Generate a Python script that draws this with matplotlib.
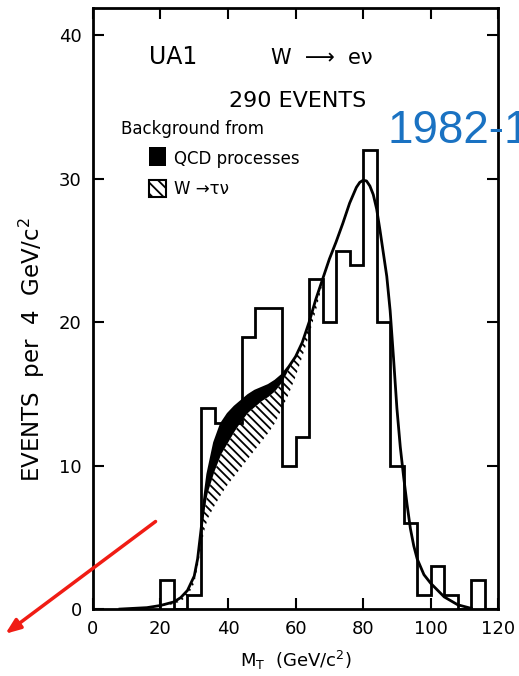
import matplotlib
matplotlib.use("Agg")
import matplotlib.pyplot as plt
from matplotlib.patches import Rectangle

# histogram of transverse mass, 4 GeV bins starting at 20 GeV
bin_edges = [20, 24, 28, 32, 36, 40, 44, 48, 52, 56, 60, 64, 68, 72, 76,
             80, 84, 88, 92, 96, 100, 104, 108, 112, 116]
counts = [2, 0, 1, 14, 13, 13, 19, 21, 21, 10, 12, 23, 20, 25, 24,
          32, 20, 10, 6, 1, 3, 1, 0, 2]

# fitted curves:
# total fit, W->enu + W->taunu (bottom of black band), W->enu alone
mt = [8, 12, 16, 20, 24, 26, 28, 30, 31, 32, 33, 34, 36, 38, 40, 42, 44, 46,
      48, 50, 52, 54, 56, 58, 60, 62, 64, 66, 68, 70, 72, 74, 76, 78, 79, 80,
      81, 82, 83, 84, 85, 86, 87, 88, 89, 90, 91, 92, 93, 94, 95, 96, 98, 100,
      104, 108, 112]
fit_total = [0.0, 0.05, 0.1, 0.25, 0.5, 0.8, 1.3, 2.3, 3.5, 5.5, 7.6, 9.4,
             11.6, 12.9, 13.6, 14.1, 14.5, 14.9, 15.2, 15.4, 15.6, 15.9, 16.3,
             16.9, 17.6, 18.6, 20.0, 21.6, 23.0, 24.4, 25.6, 26.9, 28.3, 29.4,
             29.75, 29.9, 29.85, 29.5, 28.9, 27.9, 26.4, 24.8, 23.2, 20.8,
             17.5, 14.0, 11.3, 9.2, 7.3, 5.6, 4.4, 3.5, 2.4, 1.8, 0.85, 0.3,
             0.05]
fit_mid = [0.0, 0.05, 0.1, 0.25, 0.5, 0.8, 1.3, 2.3, 3.4, 5.2, 6.9, 8.1,
           9.6, 10.8, 11.6, 12.4, 13.1, 13.7, 14.1, 14.5, 14.8, 15.2, 15.8,
           16.7, 17.6, 18.6, 20.0, 21.6, 23.0, 24.4, 25.6, 26.9, 28.3, 29.4,
           29.75, 29.9, 29.85, 29.5, 28.9, 27.9, 26.4, 24.8, 23.2, 20.8,
           17.5, 14.0, 11.3, 9.2, 7.3, 5.6, 4.4, 3.5, 2.4, 1.8, 0.85, 0.3,
           0.05]
fit_enu = [0.0, 0.05, 0.1, 0.2, 0.35, 0.55, 0.9, 1.8, 2.9, 4.3, 5.5, 6.3,
           7.2, 8.0, 8.7, 9.3, 9.9, 10.5, 11.1, 11.7, 12.3, 13.0, 14.0, 15.0,
           16.2, 17.6, 19.1, 20.8, 22.7, 24.4, 25.6, 26.9, 28.3, 29.4,
           29.75, 29.9, 29.85, 29.5, 28.9, 27.9, 26.4, 24.8, 23.2, 20.8,
           17.5, 14.0, 11.3, 9.2, 7.3, 5.6, 4.4, 3.5, 2.4, 1.8, 0.85, 0.3,
           0.05]

x_ticks = [0, 20, 40, 60, 80, 100, 120]
y_ticks = [0, 10, 20, 30, 40]

plt.rcParams["font.family"] = ["DejaVu Sans"]
plt.rcParams["hatch.linewidth"] = 1.3

fig = plt.figure(figsize=(5.19, 6.76), dpi=100)
ax = fig.add_axes([0.179, 0.099, 0.781, 0.889])

ax.fill_between(mt, fit_mid, fit_total, color="black", lw=0)
ax.fill_between(mt, fit_enu, fit_mid, facecolor="white", edgecolor="black",
                hatch="\\\\\\\\", lw=0)
ax.plot(mt, fit_total, color="black", lw=2)
ax.stairs(counts, bin_edges, baseline=0, color="black", lw=2)

ax.set_xlim(0, 120)
ax.set_ylim(0, 41.9)
ax.set_xticks(x_ticks)
ax.set_yticks(y_ticks)
ax.tick_params(direction="in", length=8, width=1.5, labelsize=13,
               top=True, right=True, pad=8)
for s in ax.spines.values():
    s.set_linewidth(2)

ax.set_xlabel("M$_\\mathregular{T}$  (GeV/c$^\\mathregular{2}$)", fontsize=13,
              labelpad=8)
ax.set_ylabel("EVENTS  per  4  GeV/c$^\\mathregular{2}$", fontsize=16.5)
ax.yaxis.set_label_coords(-0.114, 0.431)

# annotations from the original figure
ax.text(16.6, 38.5, "UA1", fontsize=17, va="center")
ax.text(52.7, 38.4, "W  \u27f6  e\u03bd", fontsize=15, va="center")
ax.text(40.3, 35.4, "290 EVENTS", fontsize=16, va="center")
ax.text(8.3, 33.5, "Background from", fontsize=12, va="center")
ax.add_patch(Rectangle((16.6, 30.9), 5.0, 1.3, facecolor="black"))
ax.text(24, 31.4, "QCD processes", fontsize=12, va="center")
ax.add_patch(Rectangle((16.6, 28.7), 5.0, 1.2, facecolor="white",
                       edgecolor="black", hatch="\\\\\\", lw=1.5))
ax.text(24, 29.3, "W \u2192\u03c4\u03bd", fontsize=12, va="center")

fig.text(0.746, 0.788, "1982-1", fontsize=33, color="#1a72c2",
         family="Liberation Sans", va="baseline")
ax.annotate("", xy=(0.006, 0.06), xycoords="figure fraction",
            xytext=(0.304, 0.231), textcoords="figure fraction",
            arrowprops=dict(arrowstyle="-|>,head_length=0.9,head_width=0.35",
                            color="#f01c14", lw=2.5))

fig.savefig("out.png", dpi=100)
